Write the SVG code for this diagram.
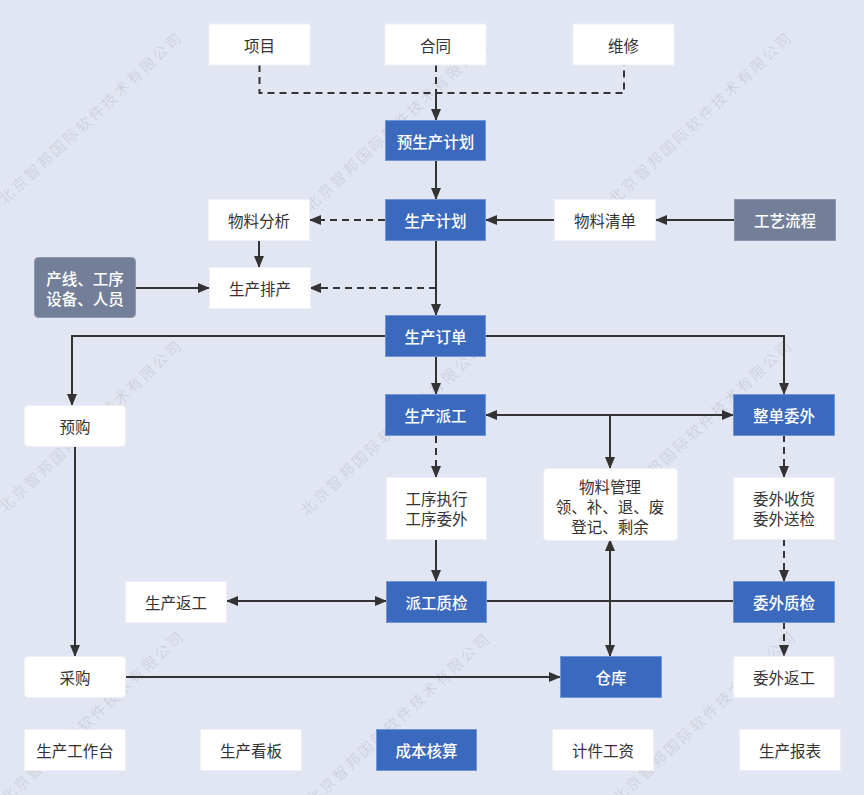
<svg xmlns="http://www.w3.org/2000/svg" width="864" height="795" viewBox="0 0 864 795">
  <style>
    .bw { fill: #ffffff; stroke: #eef0f6; stroke-width: 1; }
    .bb { fill: #3a69bd; stroke: #7196d6; stroke-width: 1; }
    .bg { fill: #737f98; stroke: #8d98ae; stroke-width: 1; }
    text { font-family: "Noto Sans CJK SC", "Microsoft YaHei", sans-serif; font-size: 15.5px; text-anchor: middle; dominant-baseline: central; }
    .td { fill: #333333; }
    .tw { fill: #ffffff; font-weight: 500; }
    .ln { fill: none; stroke: #333333; stroke-width: 2; }
    .da { stroke-dasharray: 7 5; }
    .end { marker-end: url(#ah); }
    .both { marker-start: url(#ah); marker-end: url(#ah); }
    .wmt { font-size: 15px; letter-spacing: 2.5px; fill: #c9ccd9; font-weight: 300; }
  </style>
  <defs>
    <marker id="ah" viewBox="0 0 12 10" refX="11" refY="5" markerWidth="12" markerHeight="10" markerUnits="userSpaceOnUse" orient="auto-start-reverse">
      <path d="M0,0 L12,5 L0,10 z" fill="#333333"/>
    </marker>
    <text id="wmt" class="wmt" x="0" y="0">北京智邦国际软件技术有限公司</text>
  </defs>

  <!-- page background -->
  <rect x="0" y="0" width="864" height="795" fill="#e2e6f2"/>

  <!-- company watermark, tiled diagonally -->
  <g id="watermark">
    <use href="#wmt" transform="translate(90,117) rotate(-43)"/>
    <use href="#wmt" transform="translate(396,124) rotate(-43)"/>
    <use href="#wmt" transform="translate(700,117) rotate(-43)"/>
    <use href="#wmt" transform="translate(90,425) rotate(-43)"/>
    <use href="#wmt" transform="translate(392,428) rotate(-43)"/>
    <use href="#wmt" transform="translate(700,425) rotate(-43)"/>
    <use href="#wmt" transform="translate(92,716) rotate(-43)"/>
    <use href="#wmt" transform="translate(398,718) rotate(-43)"/>
    <use href="#wmt" transform="translate(704,716) rotate(-43)"/>
  </g>

  <!-- connectors -->
  <g id="connectors">
    <path class="ln da" d="M259.5,65 V93 H624 V65"/>
    <path class="ln da" d="M436,65 V93"/>
    <path class="ln end" d="M436,93 V120"/>
    <path class="ln end" d="M436,160 V199"/>
    <path class="ln da end" d="M385,220 H310"/>
    <path class="ln end" d="M554,220 H486"/>
    <path class="ln end" d="M734,220 H656"/>
    <path class="ln end" d="M259,241 V267"/>
    <path class="ln end" d="M136,288 H209"/>
    <path class="ln end" d="M436,241 V315"/>
    <path class="ln da end" d="M436,288 H310"/>
    <path class="ln end" d="M386,336 H72 V405"/>
    <path class="ln end" d="M486,336 H784 V394"/>
    <path class="ln end" d="M436,356 V394"/>
    <path class="ln both" d="M486,415 H733"/>
    <path class="ln end" d="M610,415 V468"/>
    <path class="ln da end" d="M436,436 V477"/>
    <path class="ln end" d="M436,539 V581"/>
    <path class="ln both" d="M227,601 H386"/>
    <path class="ln" d="M486,601 H733"/>
    <path class="ln both" d="M610,540 V656"/>
    <path class="ln da end" d="M784,435 V477"/>
    <path class="ln da end" d="M784,539 V581"/>
    <path class="ln da end" d="M784,622 V656"/>
    <path class="ln end" d="M75,447 V656"/>
    <path class="ln end" d="M126,677 H560"/>
  </g>

  <!-- nodes -->
  <g id="n-xiangmu"><rect class="bw" x="209" y="24" width="101" height="41"/><text class="td" x="259.5" y="44.5">项目</text></g>
  <g id="n-hetong"><rect class="bw" x="385" y="24" width="101" height="41"/><text class="td" x="435.5" y="44.5">合同</text></g>
  <g id="n-weixiu"><rect class="bw" x="573" y="24" width="101" height="41"/><text class="td" x="623.5" y="44.5">维修</text></g>

  <g id="n-yusc"><rect class="bb" x="385.5" y="120.5" width="100" height="40"/><text class="tw" x="435.5" y="140.5">预生产计划</text></g>
  <g id="n-scjh"><rect class="bb" x="385.5" y="199.5" width="100" height="41"/><text class="tw" x="435.5" y="220">生产计划</text></g>
  <g id="n-wlfx"><rect class="bw" x="208.5" y="199.5" width="101" height="41"/><text class="td" x="259" y="220">物料分析</text></g>
  <g id="n-wlqd"><rect class="bw" x="554.5" y="199.5" width="101" height="41"/><text class="td" x="605" y="220">物料清单</text></g>
  <g id="n-gylc"><rect class="bg" x="734.5" y="199.5" width="101" height="41"/><text class="tw" x="785" y="220">工艺流程</text></g>

  <g id="n-cxgx"><rect class="bg" x="34.5" y="257.5" width="101" height="60" rx="4"/><text class="tw" x="85" y="278">产线、工序</text><text class="tw" x="85" y="298">设备、人员</text></g>
  <g id="n-scpc"><rect class="bw" x="209.5" y="267.5" width="101" height="41"/><text class="td" x="260" y="288">生产排产</text></g>

  <g id="n-scdd"><rect class="bb" x="385.5" y="315.5" width="100" height="41"/><text class="tw" x="435.5" y="336">生产订单</text></g>
  <g id="n-yugou"><rect class="bw" x="24.5" y="405.5" width="101" height="41" rx="4"/><text class="td" x="75" y="426">预购</text></g>
  <g id="n-scpg"><rect class="bb" x="385.5" y="394.5" width="100" height="41"/><text class="tw" x="435.5" y="415">生产派工</text></g>
  <g id="n-zdww"><rect class="bb" x="733.5" y="394.5" width="101" height="41"/><text class="tw" x="784" y="415">整单委外</text></g>

  <g id="n-gxzx"><rect class="bw" x="386.5" y="477.5" width="100" height="62"/><text class="td" x="436.5" y="498">工序执行</text><text class="td" x="436.5" y="518">工序委外</text></g>
  <g id="n-wlgl"><rect class="bw" x="543.5" y="468.5" width="134" height="72" rx="4"/><text class="td" x="610" y="486">物料管理</text><text class="td" x="610" y="506">领、补、退、废</text><text class="td" x="610" y="526">登记、剩余</text></g>
  <g id="n-wwsh"><rect class="bw" x="733.5" y="477.5" width="101" height="62"/><text class="td" x="784" y="498">委外收货</text><text class="td" x="784" y="518">委外送检</text></g>

  <g id="n-scfg"><rect class="bw" x="125.5" y="581.5" width="101" height="41"/><text class="td" x="176" y="602">生产返工</text></g>
  <g id="n-pgzj"><rect class="bb" x="386.5" y="581.5" width="100" height="41"/><text class="tw" x="436.5" y="602">派工质检</text></g>
  <g id="n-wwzj"><rect class="bb" x="733.5" y="581.5" width="101" height="41"/><text class="tw" x="784" y="602">委外质检</text></g>

  <g id="n-caigou"><rect class="bw" x="24.5" y="656.5" width="101" height="41" rx="4"/><text class="td" x="75" y="677">采购</text></g>
  <g id="n-cangku"><rect class="bb" x="560.5" y="656.5" width="101" height="41"/><text class="tw" x="611" y="677">仓库</text></g>
  <g id="n-wwfg"><rect class="bw" x="733.5" y="656.5" width="101" height="41"/><text class="td" x="784" y="677">委外返工</text></g>

  <g id="n-scgzt"><rect class="bw" x="24.5" y="729.5" width="101" height="41"/><text class="td" x="75" y="750">生产工作台</text></g>
  <g id="n-sckb"><rect class="bw" x="200.5" y="729.5" width="101" height="41"/><text class="td" x="251" y="750">生产看板</text></g>
  <g id="n-cbhs"><rect class="bb" x="376.5" y="729.5" width="100" height="41"/><text class="tw" x="426.5" y="750">成本核算</text></g>
  <g id="n-jjgz"><rect class="bw" x="552.5" y="729.5" width="101" height="41"/><text class="td" x="603" y="750">计件工资</text></g>
  <g id="n-scbb"><rect class="bw" x="739.5" y="729.5" width="101" height="41"/><text class="td" x="790" y="750">生产报表</text></g>
</svg>
